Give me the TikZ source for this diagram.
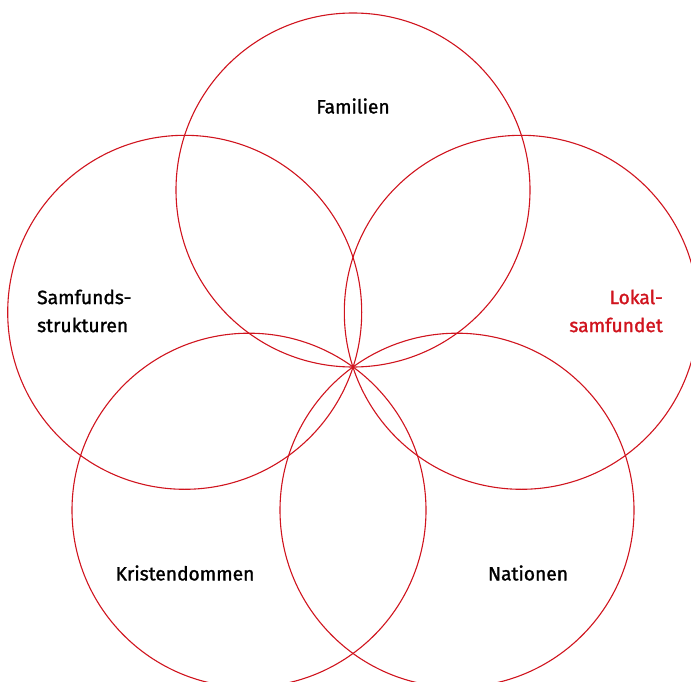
\documentclass[tikz,border=0pt]{standalone}
\usepackage{fontspec}
\setmainfont{Fira Sans}
\newfontfamily\lblfont[FakeBold=1.4]{Fira Sans}
\usetikzlibrary{positioning,calc}
\definecolor{ringred}{HTML}{D0141E}

\begin{document}
\begin{tikzpicture}[x=1pt,y=-1pt,
  ring/.style={circle,draw=ringred,line width=1.1pt,minimum size=354pt,inner sep=0pt},
  lbl/.style={font=\lblfont\fontsize{19.2}{28}\selectfont,text=black,inner sep=0pt}]
  \useasboundingbox (0,0) rectangle (691,682);
  \clip (0,0) rectangle (691,682);
  \coordinate (hub) at (353,367);
  % five rings through the hub
  \node[ring] (r_fam) at ($(hub)+(0,-177)$) {};
  \node[ring] (r_sam) at ($(hub)+(-168.3,-54.7)$) {};
  \node[ring] (r_lok) at ($(hub)+(168.3,-54.7)$) {};
  \node[ring] (r_kri) at ($(hub)+(-104,143.2)$) {};
  \node[ring] (r_nat) at ($(hub)+(104,143.2)$) {};
  % labels
  \node[lbl] (l_fam) at (353,106) {Familien};
  \node[lbl,align=left,anchor=west] (l_sam) at (37,311) {Samfunds-\\strukturen};
  \node[lbl,align=right,anchor=east,text=ringred] (l_lok) at (663,311) {Lokal-\\samfundet};
  \node[lbl] (l_kri) at (185,573) {Kristendommen};
  \node[lbl] (l_nat) at (528,573) {Nationen};
\end{tikzpicture}
\end{document}
